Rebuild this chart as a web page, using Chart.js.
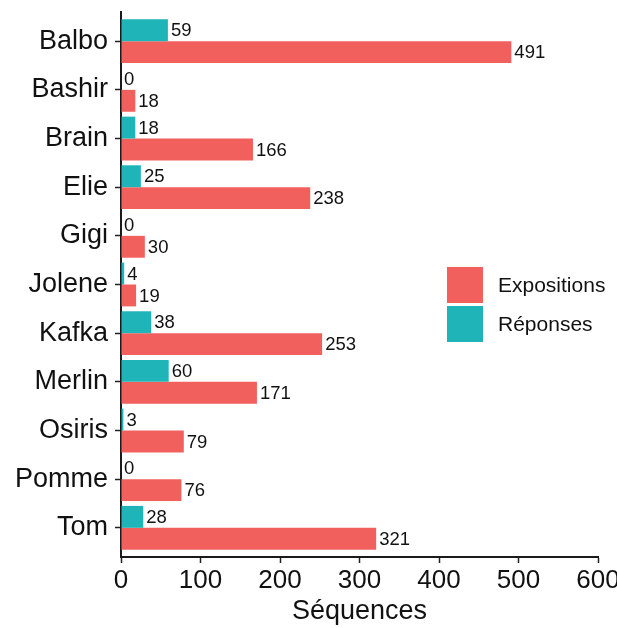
<!DOCTYPE html>
<html>
<head>
<meta charset="utf-8">
<script src="https://cdn.jsdelivr.net/npm/chart.js@4"></script>
<style>
  html, body { margin: 0; padding: 0; background: #fff; overflow: hidden; }
  #wrap { width: 617px; height: 628px; }
</style>
</head>
<body>
<div id="wrap"><canvas id="seqChart"></canvas></div>
<script>
const categories = ['Balbo', 'Bashir', 'Brain', 'Elie', 'Gigi', 'Jolene', 'Kafka', 'Merlin', 'Osiris', 'Pomme', 'Tom'];
const expositions = [491, 18, 166, 238, 30, 19, 253, 171, 79, 76, 321];
const reponses = [59, 0, 18, 25, 0, 4, 38, 60, 3, 0, 28];
const xTicks = [0, 100, 200, 300, 400, 500, 600];

const RED = '#F2605D';
const TEAL = '#1FB5B8';
const FONT = "'Liberation Sans', Arial, sans-serif";

// étiquettes de valeurs au bout des barres
const valueLabels = {
    id: 'valueLabels',
    afterDatasetsDraw(chart) {
        const ctx = chart.ctx;
        ctx.save();
        ctx.font = '18.5px ' + FONT;
        ctx.fillStyle = '#111';
        ctx.textAlign = 'left';
        ctx.textBaseline = 'middle';
        chart.data.datasets.forEach((ds, i) => {
            chart.getDatasetMeta(i).data.forEach((bar, j) => {
                ctx.fillText(String(ds.data[j]), bar.x + 3, bar.y + 1);
            });
        });
        ctx.restore();
    }
};

// légende à l'intérieur du panneau, comme dans ggplot
const boxLegend = {
    id: 'boxLegend',
    afterDraw(chart) {
        const ctx = chart.ctx;
        const items = chart.data.datasets.slice().reverse();
        ctx.save();
        ctx.font = '21px ' + FONT;
        ctx.textBaseline = 'middle';
        items.forEach((ds, k) => {
            const top = 267 + k * 39;
            ctx.fillStyle = ds.backgroundColor;
            ctx.fillRect(447, top, 36, 36);
            ctx.fillStyle = '#111';
            ctx.fillText(ds.label, 498, top + 19);
        });
        ctx.restore();
    }
};

new Chart(document.getElementById('seqChart'), {
    type: 'bar',
    data: {
        labels: categories,
        datasets: [
            { label: 'Réponses', data: reponses, backgroundColor: TEAL },
            { label: 'Expositions', data: expositions, backgroundColor: RED }
        ]
    },
    options: {
        indexAxis: 'y',
        responsive: true,
        maintainAspectRatio: false,
        animation: false,
        datasets: {
            bar: { categoryPercentage: 0.9, barPercentage: 1.0, borderWidth: 0 }
        },
        layout: { padding: { top: 12, right: 19, left: 0, bottom: 0 } },
        plugins: {
            legend: { display: false },
            tooltip: { enabled: false }
        },
        scales: {
            x: {
                type: 'linear',
                min: 0,
                max: 600,
                afterBuildTicks: s => { s.ticks = xTicks.map(v => ({ value: v })); },
                afterFit: s => { s.height = 71; s.paddingRight = 0; s.paddingLeft = 0; },
                grid: { drawOnChartArea: false, drawTicks: true, tickLength: 6, color: '#222', tickColor: '#222', tickWidth: 1.5 },
                border: { color: '#1a1a1a', width: 2 },
                ticks: { color: '#111', font: { family: FONT, size: 26 }, padding: 2, maxRotation: 0 },
                title: { display: true, text: 'Séquences', color: '#111', font: { family: FONT, size: 27 }, padding: { top: 0, bottom: 0 } }
            },
            y: {
                type: 'category',
                offset: true,
                // expansion discrète de ggplot : 0,6 de chaque côté
                afterBuildTicks: s => { s._startValue = -0.6; s._valueRange = categories.length + 0.2; },
                afterFit: s => { s.width = 121; s.paddingTop = 0; s.paddingBottom = 0; },
                grid: { drawOnChartArea: false, drawTicks: true, tickLength: 6, offset: false, color: '#222', tickColor: '#222', tickWidth: 1.5 },
                border: { color: '#1a1a1a', width: 2 },
                ticks: { color: '#111', font: { family: FONT, size: 27 }, padding: 7, autoSkip: false }
            }
        }
    },
    plugins: [valueLabels, boxLegend]
});
</script>
</body>
</html>
